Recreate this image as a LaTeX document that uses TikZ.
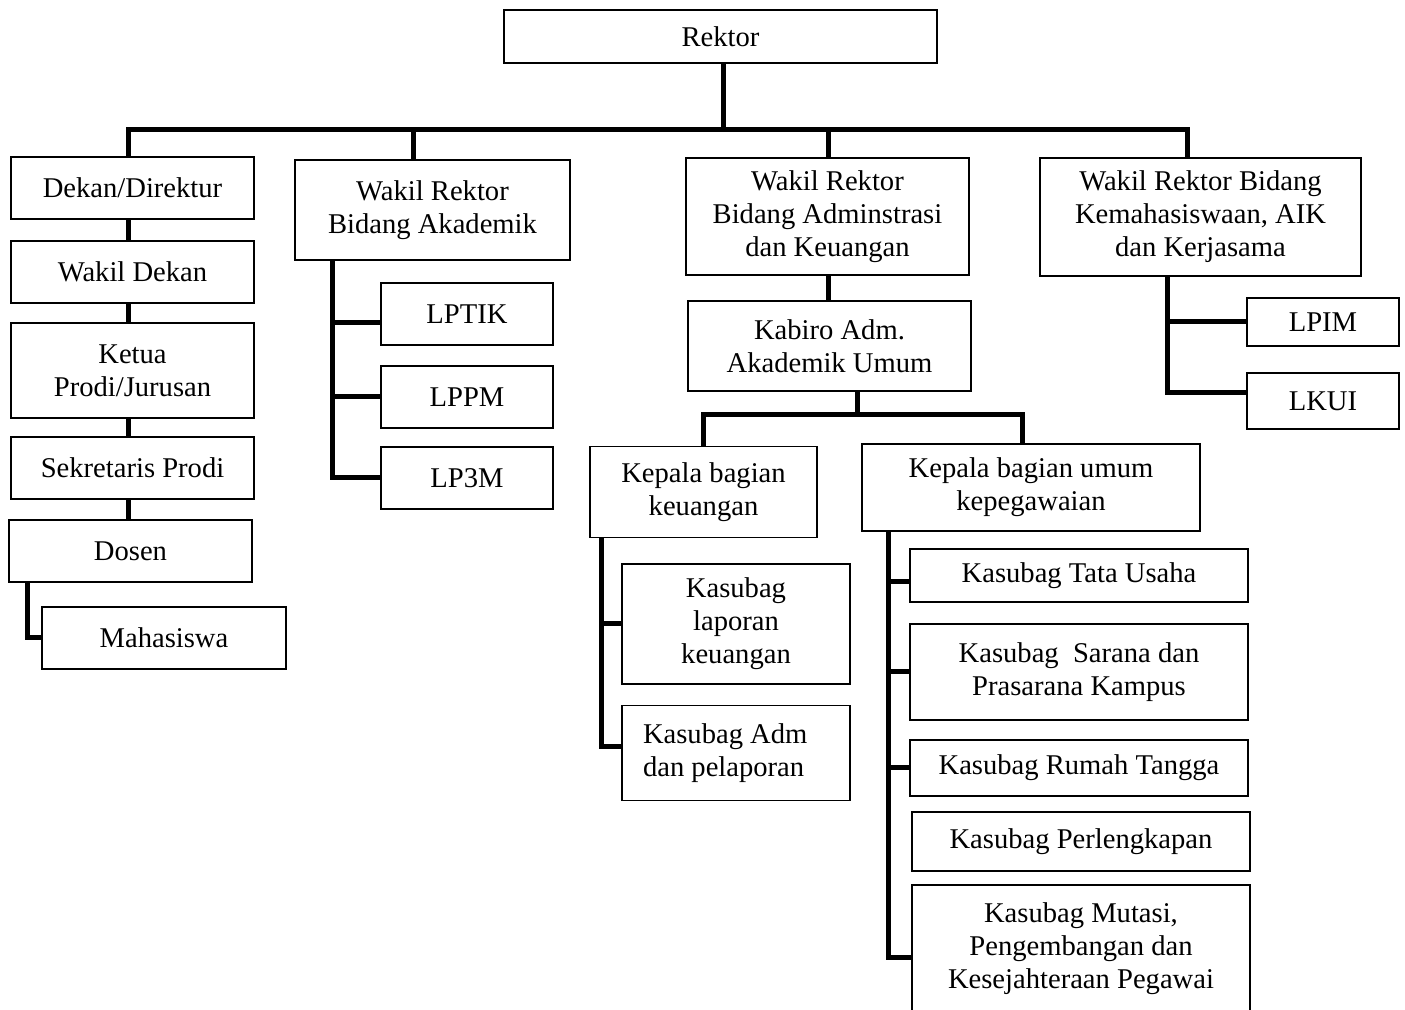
\documentclass[tikz,border=0pt]{standalone}
\usepackage{fontspec}
\setmainfont{Liberation Serif}

\tikzset{
  kotak/.style 2 args={draw, line width=0.75pt, align=center, inner sep=0pt,
    minimum width=#1*0.5pt, minimum height=#2*0.5pt,
    font=\fontsize{14.3}{16.5}\selectfont},
  garis/.style={line width=2.5pt},
}

\begin{document}
\begin{tikzpicture}[x=0.5pt, y=-0.5pt]
\useasboundingbox (0,0) rectangle (1405,1010);
\clip (0,0) rectangle (1405,1010);

% puncak
\node[kotak={433}{53}] (rektor) at (720.5,36.5) {Rektor};

% kolom fakultas
\node[kotak={243}{62}] (dekan) at (132.5,188) {Dekan/Direktur};
\node[kotak={243}{62}] (wadek) at (132.5,272) {Wakil Dekan};
\node[kotak={243}{95}] (kaprodi) at (132.5,370.5) {Ketua\\Prodi/Jurusan};
\node[kotak={243}{62}] (sekprodi) at (132.5,468) {Sekretaris Prodi};
\node[kotak={243}{62}] (dosen) at (130.5,551) {Dosen};
\node[kotak={244}{62}] (mhs) at (164,638) {Mahasiswa};

% bidang akademik
\node[kotak={275}{100}] (wr1) at (432.5,210) {Wakil Rektor\\Bidang Akademik};
\node[kotak={172}{62}] (lptik) at (467,314) {LPTIK};
\node[kotak={172}{62}] (lppm) at (467,397) {LPPM};
\node[kotak={172}{62}] (lp3m) at (467,478) {LP3M};

% bidang administrasi
\node[kotak={283}{117}] (wr2) at (827.5,216.5) {Wakil Rektor\\Bidang Adminstrasi\\dan Keuangan};
\node[kotak={283}{90}] (kabiro) at (829.5,346) {Kabiro Adm.\\Akademik Umum};
\node[kotak={227}{91}] (kbkeu) at (703.5,492) {Kepala bagian\\keuangan};
\node[kotak={338}{87}] (kbumum) at (1031,487.5) {Kepala bagian umum\\kepegawaian};
\node[kotak={228}{120}] (ksblap) at (736,624) {Kasubag\\laporan\\keuangan};
\node[kotak={228}{95}, align=flush left, text width=93pt] (ksbadm) at (736,753) {Kasubag Adm\\dan pelaporan};
\node[kotak={338}{53}] (ksbtu) at (1079,575.5) {Kasubag Tata Usaha};
\node[kotak={338}{96}] (ksbsar) at (1079,672) {Kasubag\ \ Sarana dan\\Prasarana Kampus};
\node[kotak={338}{56}] (ksbrt) at (1079,768) {Kasubag Rumah Tangga};
\node[kotak={338}{59}] (ksbper) at (1081,841.5) {Kasubag Perlengkapan};
\node[kotak={338}{128}] (ksbmut) at (1081,949) {Kasubag Mutasi,\\Pengembangan dan\\Kesejahteraan Pegawai};

% bidang kemahasiswaan
\node[kotak={321}{118}] (wr3) at (1200.5,217) {Wakil Rektor Bidang\\Kemahasiswaan, AIK\\dan Kerjasama};
\node[kotak={152}{48}] (lpim) at (1323,322) {LPIM};
\node[kotak={152}{56}] (lkui) at (1323,401) {LKUI};

% titik bantu
\coordinate (kR) at (723,130);
\coordinate (k1) at (413,130);
\coordinate (k2) at (828,130);
\coordinate (kKiri) at (128,130);
\coordinate (kKanan) at (1187,130);
\coordinate (tDosen) at (27,0);
\coordinate (tAkad) at (332,0);
\coordinate (tKema) at (1167,0);
\coordinate (tKabiro) at (857,415);
\coordinate (bKeu) at (703,415);
\coordinate (bUmum) at (1022,415);
\coordinate (tKeu) at (601,0);
\coordinate (tUmum) at (888,0);
\coordinate (cLptik) at ([yshift=-4.5pt]lptik.west);
\coordinate (cLkui) at ([yshift=4pt]lkui.west);
\coordinate (cAdm) at ([yshift=3pt]ksbadm.west);
\coordinate (cTu) at ([yshift=-3.25pt]ksbtu.west);
\coordinate (cMut) at ([yshift=-4pt]ksbmut.west);

% garis
\draw[garis] (rektor.south -| kR) -- (kR);
\draw[garis] (dekan.north -| kKiri) -- (kKiri) -- (kKanan) -- (wr3.north -| kKanan);
\draw[garis] (k1) -- (wr1.north -| k1);
\draw[garis] (k2) -- (wr2.north -| k2);

\foreach \a/\b in {dekan/wadek, wadek/kaprodi, kaprodi/sekprodi, sekprodi/dosen}
  \draw[garis] (\a.south -| kKiri) -- (\b.north -| kKiri);
\draw[garis] (dosen.south -| tDosen) |- (mhs.west);

\draw[garis] (wr1.south -| tAkad) |- (lp3m.west);
\draw[garis] (tAkad |- cLptik) -- (cLptik);
\draw[garis] (tAkad |- lppm.west) -- (lppm.west);

\draw[garis] (wr3.south -| tKema) |- (cLkui);
\draw[garis] (tKema |- lpim.west) -- (lpim.west);

\draw[garis] (wr2.south -| k2) -- (kabiro.north -| k2);
\draw[garis] (kabiro.south -| tKabiro) -- (tKabiro);
\draw[garis] (kbkeu.north -| bKeu) -- (bKeu) -- (bUmum) -- (kbumum.north -| bUmum);

\draw[garis] (kbkeu.south -| tKeu) |- (cAdm);
\draw[garis] (tKeu |- ksblap.west) -- (ksblap.west);

\draw[garis] (kbumum.south -| tUmum) |- (cMut);
\foreach \n in {cTu, ksbsar.west, ksbrt.west}
  \draw[garis] (tUmum |- \n) -- (\n);
\end{tikzpicture}
\end{document}
